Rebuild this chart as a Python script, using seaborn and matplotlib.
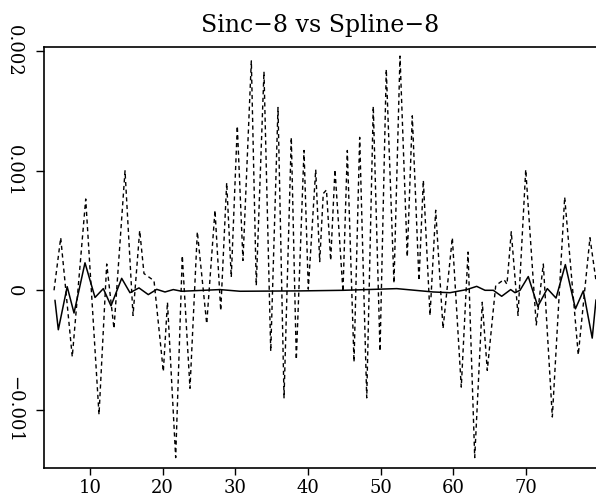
import numpy as np
import pandas as pd
import matplotlib
matplotlib.use("Agg")
import matplotlib.pyplot as plt
import seaborn as sns

# ---- data (y values in units of 1e-3) ----
x_sinc = [5.05, 5.97, 7.56, 9.41, 11.24, 12.30, 13.30, 14.82, 15.92, 16.84,
          17.43, 18.81, 20.09, 20.66, 21.79, 22.70, 23.76, 24.77, 26.06, 27.20,
          27.99, 28.81, 29.44, 30.27, 31.05, 32.20, 32.88, 33.94, 34.87, 35.87,
          36.70, 37.70, 38.39, 39.45, 40.04, 41.06, 41.61, 42.10, 42.54, 43.12,
          43.71, 44.81, 45.41, 46.33, 47.11, 48.08, 48.98, 49.91, 50.77, 51.83,
          52.66, 53.66, 54.35, 55.27, 55.87, 56.79, 57.57, 58.58, 59.86, 61.09,
          62.02, 62.94, 63.98, 64.67, 65.83, 66.97, 67.38, 67.97, 68.90, 69.96,
          71.41, 72.38, 73.62, 75.32, 77.19, 78.80, 79.63]
y_sinc = [0.00, 0.44, -0.556, 0.764, -1.04, 0.22, -0.32, 1.00, -0.21, 0.50,
          0.14, 0.08, -0.68, -0.10, -1.40, 0.29, -0.82, 0.49, -0.28, 0.67,
          -0.17, 0.90, 0.11, 1.375, 0.25, 1.92, 0.04, 1.83, -0.51, 1.53,
          -0.90, 1.28, -0.58, 1.17, 0.01, 1.01, 0.24, 0.81, 0.84, 0.25,
          1.01, -0.01, 1.17, -0.60, 1.28, -0.90, 1.54, -0.51, 1.85, 0.06,
          1.96, 0.28, 1.46, 0.08, 0.92, -0.21, 0.67, -0.32, 0.44, -0.81,
          0.32, -1.40, -0.10, -0.67, 0.04, 0.09, 0.05, 0.49, -0.21, 1.01,
          -0.29, 0.22, -1.06, 0.78, -0.54, 0.44, 0.08]

x_spline = [5.18, 5.64, 6.86, 7.80, 9.31, 10.69, 11.83, 12.89, 14.36, 15.50,
            16.74, 18.02, 19.18, 20.32, 21.46, 22.62, 27.89, 30.64, 38.90, 44.86,
            52.21, 57.24, 59.54, 61.84, 63.21, 64.36, 65.50, 66.65, 67.89, 68.48,
            69.17, 70.31, 71.62, 72.93, 74.13, 75.41, 76.80, 77.88, 79.11, 79.63]
y_spline = [-0.083, -0.33, 0.03, -0.19, 0.23, -0.06, 0.014, -0.13, 0.10, -0.02,
            0.02, -0.036, 0.008, -0.014, 0.006, -0.008, 0.006, -0.008, -0.005, 0.0,
            0.014, -0.014, -0.02, 0.006, 0.033, 0.0, 0.0, -0.05, 0.006, -0.02,
            0.0, 0.115, -0.135, 0.014, -0.065, 0.215, -0.155, -0.005, -0.40, -0.08]

x_ticks = [10, 20, 30, 40, 50, 60, 70]
y_ticks = [-0.001, 0, 0.001, 0.002]
y_ticklabels = ["\u22120.001", "0", "0.001", "0.002"]
title = "Sinc\u22128 vs Spline\u22128"

df_sinc = pd.DataFrame({"x": x_sinc, "y": np.array(y_sinc) * 1e-3})
df_spline = pd.DataFrame({"x": x_spline, "y": np.array(y_spline) * 1e-3})

sns.set_style("ticks")
plt.rcParams["font.family"] = ["DejaVu Serif"]

fig = plt.figure(figsize=(5.96, 5.01), dpi=100)
ax = fig.add_axes([44 / 596, 33 / 501, 1 - 44 / 596, 421 / 501])

sns.lineplot(data=df_sinc, x="x", y="y", ax=ax, color="black",
             linewidth=1.0, linestyle=(0, (3, 2.5)), sort=False)
sns.lineplot(data=df_spline, x="x", y="y", ax=ax, color="black",
             linewidth=1.1, sort=False)

ax.set_xlim(3.67, 79.63)
ax.set_ylim(-0.001487, 0.002036)
ax.set_xticks(x_ticks)
ax.set_xticklabels([str(t) for t in x_ticks])
ax.set_yticks(y_ticks)
ax.set_yticklabels(y_ticklabels)
ax.set_xlabel("")
ax.set_ylabel("")

for s in ["left", "bottom", "top"]:
    ax.spines[s].set_visible(True)
    ax.spines[s].set_color("black")
    ax.spines[s].set_linewidth(1.2)
ax.spines["right"].set_visible(False)

ax.tick_params(axis="x", direction="out", length=5, width=1.0, pad=3,
               labelsize=13, colors="black")
ax.tick_params(axis="y", direction="out", length=6, width=1.0, pad=9,
               labelsize=13, colors="black", labelrotation=-90)
for lab in ax.get_yticklabels():
    lab.set_verticalalignment("center")

ax.set_title(title, fontsize=17, pad=11, color="black")

fig.savefig("out.png", dpi=100)
